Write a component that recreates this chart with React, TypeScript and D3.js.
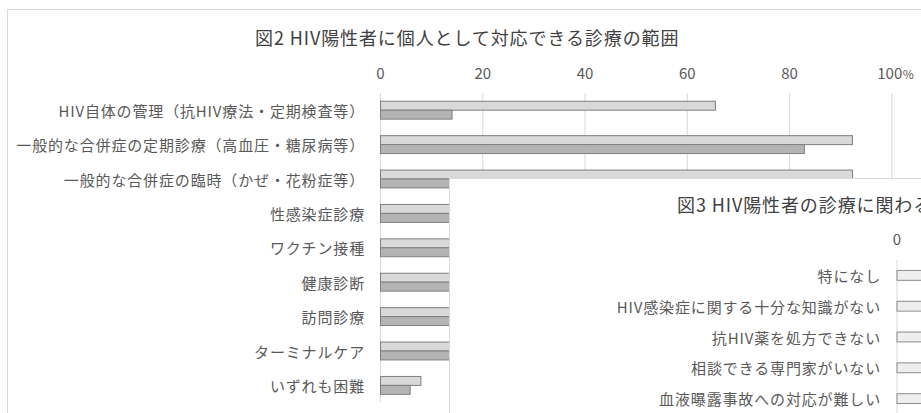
import React from "react";
import * as d3 from "d3";

const fig2Title = "図2 HIV陽性者に個人として対応できる診療の範囲";
const fig2Categories = [
  "HIV自体の管理（抗HIV療法・定期検査等）",
  "一般的な合併症の定期診療（高血圧・糖尿病等）",
  "一般的な合併症の臨時（かぜ・花粉症等）",
  "性感染症診療",
  "ワクチン接種",
  "健康診断",
  "訪問診療",
  "ターミナルケア",
  "いずれも困難",
];
const fig2SeriesA = [65.5, 92.3, 92.3, 55, 70, 75, 35, 30, 7.9];
const fig2SeriesB = [14.0, 82.9, 80, 25, 45, 55, 20, 18, 5.8];
const fig2Ticks = [0, 20, 40, 60, 80, 100];

const fig3Title = "図3 HIV陽性者の診療に関わる課題";
const fig3Categories = [
  "特になし",
  "HIV感染症に関する十分な知識がない",
  "抗HIV薬を処方できない",
  "相談できる専門家がいない",
  "血液曝露事故への対応が難しい",
];
const fig3Values = [20, 60, 50, 40, 30];
const fig3Ticks = [0];

const FONT = "'Noto Sans CJK JP', 'Noto Sans', sans-serif";

export default function App() {
  // Figure 2 scales
  const x2 = d3.scaleLinear().domain([0, 100]).range([380.5, 891.8]);
  const y2 = d3
    .scaleBand<string>()
    .domain(fig2Categories)
    .range([93, 402.6])
    .paddingInner(0.48)
    .paddingOuter(0.24);
  const sub = d3
    .scaleBand<string>()
    .domain(["A", "B"])
    .range([0, y2.bandwidth()]);

  // Figure 3 scales
  const x3 = d3.scaleLinear().domain([0, 100]).range([897, 1410]);
  const y3 = d3
    .scaleBand<string>()
    .domain(fig3Categories)
    .range([260, 414])
    .paddingInner(0.68)
    .paddingOuter(0.34);

  const gridColor = "#d9d9d9";
  const textColor = "#595959";
  const labelSize = 15;
  const labelSpacing = 0.85;

  return (
    <div style={{ position: "fixed", left: 0, top: 0, width: 921, height: 413, overflow: "hidden", background: "#fff" }}>
      <svg width={921} height={413} style={{ display: "block", fontFamily: FONT }}>
        <rect x={0} y={0} width={921} height={413} fill="#fff" />
        {/* Figure 2 frame */}
        <rect x={7.5} y={9.5} width={1000} height={500} fill="#fff" stroke={gridColor} />
        <text x={255} y={37} textAnchor="start" dominantBaseline="central" fontSize={18} letterSpacing={0.9} fill="#404040">
          {fig2Title}
        </text>
        {/* gridlines */}
        {fig2Ticks.map((t) => (
          <line key={"g" + t} x1={x2(t)} x2={x2(t)} y1={93} y2={402} stroke={gridColor} strokeWidth={1} />
        ))}
        {/* tick labels */}
        {fig2Ticks.map((t) =>
          t === 100 ? (
            <g key={"t" + t}>
              <text x={x2(t) - 2} y={72} textAnchor="middle" dominantBaseline="central" fontSize={15} fill={textColor}>
                {t}
              </text>
              <text x={x2(t) + 11} y={73} textAnchor="start" dominantBaseline="central" fontSize={12} fill={textColor}>
                %
              </text>
            </g>
          ) : (
            <text key={"t" + t} x={x2(t)} y={72} textAnchor="middle" dominantBaseline="central" fontSize={15} fill={textColor}>
              {t}
            </text>
          )
        )}
        {/* bars */}
        {fig2Categories.map((c, i) => {
          const y0 = y2(c) as number;
          return (
            <g key={c}>
              <rect
                x={x2(0)}
                y={y0 + (sub("A") as number)}
                width={x2(fig2SeriesA[i]) - x2(0)}
                height={sub.bandwidth()}
                fill="#d9d9d9"
                stroke="#7f7f7f"
                strokeWidth={1}
              />
              <rect
                x={x2(0)}
                y={y0 + (sub("B") as number)}
                width={x2(fig2SeriesB[i]) - x2(0)}
                height={sub.bandwidth()}
                fill="#b4b4b4"
                stroke="#7f7f7f"
                strokeWidth={1}
              />
              <text
                x={365}
                y={y0 + y2.bandwidth() / 2}
                textAnchor="end"
                dominantBaseline="central"
                fontSize={labelSize}
                letterSpacing={labelSpacing}
                fill={textColor}
              >
                {c}
              </text>
            </g>
          );
        })}

        {/* Figure 3 frame (overlapping) */}
        <rect x={449.5} y={178.5} width={1000} height={500} fill="#fff" stroke={gridColor} />
        <text x={677} y={204} textAnchor="start" dominantBaseline="central" fontSize={18} letterSpacing={0.9} fill="#404040">
          {fig3Title}
        </text>
        {fig3Ticks.map((t) => (
          <g key={"f3t" + t}>
            <text x={x3(t)} y={238} textAnchor="middle" dominantBaseline="central" fontSize={15} fill={textColor}>
              {t}
            </text>
            <line x1={x3(t)} x2={x3(t)} y1={260} y2={413} stroke={gridColor} />
          </g>
        ))}
        {fig3Categories.map((c, i) => {
          const y0 = y3(c) as number;
          return (
            <g key={c}>
              <rect
                x={x3(0)}
                y={y0}
                width={x3(fig3Values[i]) - x3(0)}
                height={y3.bandwidth()}
                fill="#eeeeee"
                stroke="#8c8c8c"
                strokeWidth={1}
              />
              <text
                x={881}
                y={y0 + y3.bandwidth() / 2}
                textAnchor="end"
                dominantBaseline="central"
                fontSize={labelSize}
                letterSpacing={labelSpacing}
                fill={textColor}
              >
                {c}
              </text>
            </g>
          );
        })}
      </svg>
    </div>
  );
}
